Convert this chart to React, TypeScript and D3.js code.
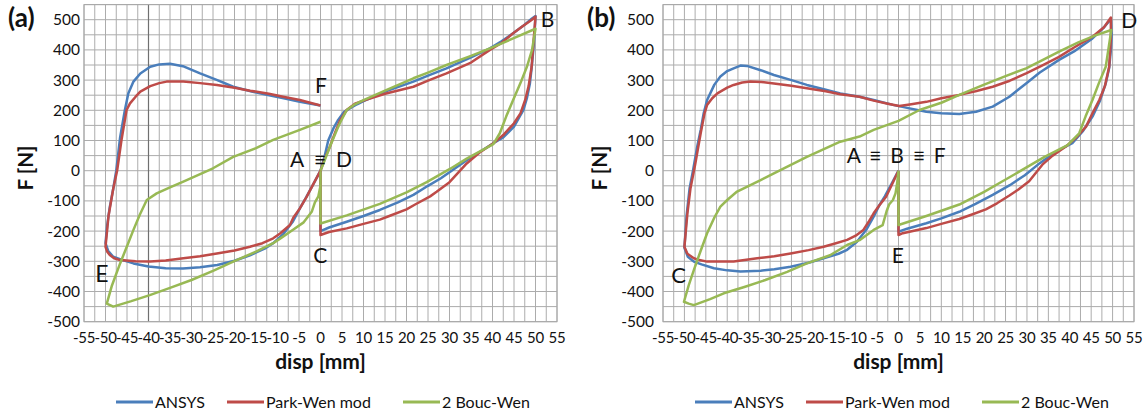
import React from 'react';
import * as d3 from 'd3';

type Pt = [number, number];

const dispTicks = [-55, -50, -45, -40, -35, -30, -25, -20, -15, -10, -5, 0, 5, 10, 15, 20, 25, 30, 35, 40, 45, 50, 55];
const forceTicks = [-500, -400, -300, -200, -100, 0, 100, 200, 300, 400, 500];
const seriesNames = ['ANSYS', 'Park-Wen mod', '2 Bouc-Wen'];
const seriesColors = ['#4A7EBB', '#BE4B48', '#98B954'];

// Panel (a): A -> B -> C -> D -> E -> F
const ansysA: Pt[] = [
  [0, 0], [1, 50], [1.8, 100], [3, 140], [4.1, 168], [5.5, 195], [6.9, 207], [8.5, 220], [10, 230], [15, 262], [21.6, 295], [25, 315], [29.3, 339], [35, 375], [39.4, 405], [42, 428], [44.8, 455], [47, 478], [49.1, 503], [50, 512],
  [49.8, 460], [49.5, 400], [49.1, 340], [48.7, 289], [48, 240], [47.2, 201], [45, 146], [42.5, 110], [40.2, 91], [37, 62], [34, 35], [30, -5], [28, -25], [25, -50], [21.6, -80], [18, -105], [13.8, -130], [10, -150], [6.1, -169], [2, -188], [0, -200],
  [0, 0], [-1.7, -45], [-3.4, -90], [-4.8, -125], [-6.5, -170], [-8.7, -210], [-11, -240], [-13, -258], [-16.4, -280], [-20, -298], [-24, -312], [-28, -320], [-32, -324], [-36, -323], [-40, -317], [-43.5, -307], [-46, -296], [-48.2, -285], [-49.4, -265], [-50, -240],
  [-49.6, -180], [-49, -120], [-48.2, -60], [-47.5, 0], [-46.6, 110], [-45.5, 200], [-44.7, 256], [-43.5, 295], [-41.9, 322], [-39.6, 344], [-37.5, 352], [-35, 354], [-32, 346], [-28, 322], [-24, 300], [-20.3, 278], [-16, 262], [-12.5, 251], [-8, 238], [-4.8, 228], [0, 216],
];
const parkA: Pt[] = [
  [0, 0], [1, 40], [2.2, 80], [3.5, 130], [4.5, 165], [6.1, 201], [8, 222], [10, 232], [15, 255], [21.6, 278], [25, 298], [29.3, 322], [35, 358], [39.4, 400], [42, 422], [44.8, 455], [47, 478], [49, 498], [50, 510],
  [49.5, 420], [49.1, 344], [48.4, 280], [47.6, 234], [46.5, 190], [45, 157], [42.5, 118], [40.2, 91], [37, 60], [34, 24], [30, -38], [27, -70], [25.5, -85], [22, -112], [20, -128], [16, -150], [13.8, -162], [10, -176], [6.1, -191], [2, -203], [0, -213],
  [0, 0], [-1.7, -45], [-3.2, -86], [-4.8, -125], [-6.3, -155], [-7.1, -180], [-9.4, -208], [-11, -224], [-13.5, -240], [-16.4, -252], [-20, -264], [-24.1, -274], [-28, -283], [-31.9, -290], [-36, -297], [-39.6, -301], [-43, -300], [-46.6, -296], [-48, -290], [-49, -279], [-49.6, -268], [-50, -252],
  [-49.3, -150], [-48.2, -60], [-47.3, 0], [-46.3, 100], [-45.1, 201], [-44.3, 223], [-43, 245], [-41.9, 262], [-39.6, 280], [-37.5, 290], [-35.8, 295], [-31.9, 295], [-28, 290], [-24.1, 284], [-20, 275], [-16.4, 265], [-12, 255], [-8.7, 245], [-4.8, 234], [0, 216],
];
const boucA: Pt[] = [
  [0, 0], [1, 35], [2.2, 80], [3.8, 135], [4.5, 157], [6.1, 201], [8, 220], [10, 234], [15, 265], [21.6, 306], [25, 325], [29.3, 350], [35, 380], [39.4, 405], [44.8, 438], [50, 470],
  [49.2, 400], [48, 344], [46.5, 290], [44.8, 234], [43.2, 180], [41.7, 124], [40.2, 88], [34, 40], [30, 5], [24.7, -38], [20, -72], [13.8, -110], [6.1, -148], [0, -175],
  [0, -5], [0, -50], [-0.5, -85], [-1.3, -105], [-2, -135], [-2.8, -150], [-4, -172], [-6.3, -195], [-9.4, -225], [-11, -240], [-15, -268], [-20.3, -301], [-25, -332], [-30, -362], [-35, -388], [-39.7, -412], [-44, -432], [-48.2, -450], [-49.7, -440],
  [-48.5, -380], [-46.6, -307], [-45, -250], [-43.5, -196], [-42, -145], [-40.4, -97], [-38.1, -75], [-35, -55], [-31.9, -36], [-25, 8], [-20.3, 46], [-15, 75], [-11, 102], [-4.8, 135], [0, 162],
];

// Panel (b): A -> C -> D -> E -> F
const ansysB: Pt[] = [
  [0, 0], [-1.5, -40], [-3.2, -85], [-4.5, -115], [-5.8, -152], [-7.5, -195], [-9.7, -235], [-12, -262], [-14, -275], [-17.5, -290], [-21, -305], [-25.2, -318], [-29, -326], [-32.2, -331], [-36.9, -334], [-40, -330], [-43.1, -323], [-46, -310], [-47.8, -301], [-49.2, -285], [-50, -255],
  [-49.5, -150], [-48.8, -60], [-48, 0], [-47, 80], [-46.2, 135], [-45.5, 190], [-44.7, 234], [-43, 285], [-41.6, 312], [-40, 330], [-38.5, 339], [-36.9, 348], [-35.4, 347], [-32, 332], [-29.1, 317], [-25, 300], [-21.4, 284], [-17, 268], [-13.6, 256], [-9.1, 245], [-5.8, 234], [-1.3, 218], [2, 208], [6.5, 195], [10, 190], [14.2, 188], [18.1, 195], [22, 212], [25.9, 245], [29.8, 289], [33, 325], [37.5, 367], [41, 395], [45.3, 438], [48, 475], [49.6, 502],
  [49.8, 450], [49.6, 400], [49.2, 340], [48.4, 289], [47, 230], [45.3, 179], [43, 130], [40.6, 91], [38, 72], [36, 55], [33, 25], [29.5, -15], [26, -48], [22, -80], [18, -110], [14.2, -136], [10, -158], [6.5, -174], [2, -192], [0, -202],
  [0, 0],
];
const parkB: Pt[] = [
  [0, 0], [-1.5, -45], [-2.9, -86], [-4.5, -115], [-5.8, -141], [-7, -170], [-8.2, -196], [-10, -215], [-12, -229], [-15, -242], [-17.5, -252], [-21, -263], [-25.2, -274], [-29, -283], [-33, -290], [-38.5, -301], [-44.7, -301], [-46.5, -296], [-47.8, -290], [-49.3, -275], [-50, -252],
  [-49.3, -141], [-48.6, -60], [-48.2, -31], [-47.5, 20], [-46.2, 124], [-45.3, 190], [-44.7, 218], [-43.5, 240], [-42.3, 256], [-40, 275], [-38.5, 284], [-36.5, 292], [-34.6, 295], [-32, 294], [-29.1, 289], [-25, 281], [-21.4, 273], [-17, 263], [-13.6, 253], [-9.1, 245], [-5.8, 232], [-2.5, 222], [0.2, 214], [3, 220], [6.5, 228], [10, 240], [14.2, 251], [18, 263], [22, 278], [26, 298], [29.8, 322], [33.5, 348], [37.5, 377], [41, 408], [45.3, 444], [48, 475], [49.6, 507],
  [49.6, 440], [49.2, 344], [48.2, 280], [46.9, 234], [45.3, 190], [43.8, 146], [41.5, 110], [39, 79], [36, 50], [33.6, 20], [30.5, -35], [28, -62], [25.9, -82], [23, -108], [20.4, -128], [17, -146], [14.2, -160], [10, -176], [6.5, -190], [1, -207], [0, -213],
  [0, 0],
];
const boucB: Pt[] = [
  [0, 0], [-0.3, -40], [-0.7, -75], [-1.3, -97], [-2.2, -112], [-2.8, -135], [-3.7, -180], [-5.8, -196], [-9.1, -230], [-12, -246], [-16, -280], [-21.4, -307], [-26, -335], [-31.1, -362], [-36, -385], [-40.8, -406], [-44, -425], [-47.8, -445], [-49, -440], [-50.1, -434],
  [-49, -380], [-47.8, -329], [-46.2, -265], [-44.7, -207], [-43, -155], [-41.6, -119], [-40, -97], [-37.7, -69], [-32.2, -31], [-29.1, -9], [-21.4, 46], [-13.6, 96], [-9.1, 113], [-5.8, 135], [0, 165], [4.9, 201], [10, 225], [14.2, 251], [20, 285], [25, 313], [29.8, 339], [33.5, 365], [37.5, 394], [42, 425], [46, 448], [49.7, 466],
  [49, 400], [48.4, 344], [46.8, 290], [45.3, 234], [43.7, 180], [42.2, 124], [39.5, 85], [34, 45], [29.8, 10], [24.3, -35], [20, -70], [14.2, -112], [6.5, -150], [0, -180],
  [0, 0],
];

type Note = { text: string; at: Pt; size: number; width?: number };
const notesA: Note[] = [
  { text: 'B', at: [51.2, 476], size: 21 },
  { text: 'F', at: [-1.3, 257], size: 21 },
  { text: 'A ≡ D', at: [-7.1, 12], size: 21, width: 62 },
  { text: 'C', at: [-1.7, -306], size: 21 },
  { text: 'E', at: [-52.4, -369], size: 23 },
];
const notesB: Note[] = [
  { text: 'D', at: [52, 472], size: 21 },
  { text: 'A ≡ B ≡ F', at: [-12.1, 25], size: 21, width: 99 },
  { text: 'C', at: [-53.1, -372], size: 22 },
  { text: 'E', at: [-1.6, -306], size: 21 },
];

const FONT = 'Lato, "Open Sans", sans-serif';

function Panel({ left, right, tag, series, notes, yLabelGap, fTitleX, darkLine }: {
  left: number; right: number; tag: string; series: Pt[][]; notes: Note[]; yLabelGap: number; fTitleX: number; darkLine?: number;
}) {
  const x = d3.scaleLinear().domain([-55, 55]).range([left, right]);
  const y = d3.scaleLinear().domain([-500, 550]).range([321.7, 4.6]);
  const line = d3.line<Pt>().x(d => x(d[0])).y(d => y(d[1]));
  const vGrid = d3.range(-55, 55.01, 2.5);
  const hGrid = d3.range(-500, 550.01, 50);
  const legendOffsets = [32, 143, 319];
  return (
    <g>
      {vGrid.map(v => (
        <line key={'v' + v} x1={x(v)} x2={x(v)} y1={y(-500)} y2={y(550)} stroke="#acacac" strokeWidth={1} />
      ))}
      {hGrid.map(v => (
        <line key={'h' + v} x1={x(-55)} x2={x(55)} y1={y(v)} y2={y(v)} stroke="#acacac" strokeWidth={1} />
      ))}
      {darkLine !== undefined && (
        <line x1={x(darkLine)} x2={x(darkLine)} y1={y(-500)} y2={y(550)} stroke="#707070" strokeWidth={1.2} />
      )}
      <rect x={x(-55)} y={y(550)} width={x(55) - x(-55)} height={y(-500) - y(550)} fill="none" stroke="#a8a8a8" />
      {series.map((s, i) => (
        <path key={i} d={line(s) || ''} fill="none" stroke={seriesColors[i]} strokeWidth={2.5} strokeLinejoin="round" />
      ))}
      {forceTicks.map(t => (
        <text key={'yt' + t} x={left - yLabelGap} y={y(t)} dy="0.35em" textAnchor="end" fontSize={15.5} fontFamily={FONT} fill="#111">{t}</text>
      ))}
      {dispTicks.map(t => (
        <text key={'xt' + t} x={x(t)} y={343} textAnchor="middle" fontSize={15} letterSpacing={-0.3} fontFamily={FONT} fill="#111">{t}</text>
      ))}
      <text x={(left + right) / 2} y={369} textAnchor="middle" fontSize={21} fontWeight="bold" fontFamily={FONT} fill="#111">disp [mm]</text>
      <text transform={`translate(${fTitleX},168) rotate(-90)`} textAnchor="middle" fontSize={20.5} fontWeight="bold" fontFamily={FONT} fill="#111">F [N]</text>
      <text x={left - 76} y={27} fontSize={26} fontWeight="bold" fontFamily={FONT} fill="#111">{tag}</text>
      {notes.map((n, i) => (
        <text key={'n' + i} x={x(n.at[0])} y={y(n.at[1])} fontSize={n.size} fontFamily={FONT} fill="#111"
          {...(n.width ? { textLength: n.width, lengthAdjust: 'spacing' } : {})}>{n.text}</text>
      ))}
      {seriesNames.map((name, i) => (
        <g key={'lg' + i}>
          <line x1={left + legendOffsets[i]} x2={left + legendOffsets[i] + 37} y1={402} y2={402} stroke={seriesColors[i]} strokeWidth={3} />
          <text x={left + legendOffsets[i] + 39} y={408} fontSize={16} fontFamily={FONT} fill="#111">{name}</text>
        </g>
      ))}
    </g>
  );
}

export default function App() {
  return (
    <svg width={1148} height={416} style={{ position: 'absolute', left: 0, top: 0, background: '#fff' }}>
      <rect width={1148} height={416} fill="#fff" />
      <Panel left={84} right={557} tag="(a)" series={[ansysA, parkA, boucA]} notes={notesA} yLabelGap={4} fTitleX={33} darkLine={-40} />
      <Panel left={663} right={1134} tag="(b)" series={[ansysB, parkB, boucB]} notes={notesB} yLabelGap={9} fTitleX={607} />
    </svg>
  );
}
